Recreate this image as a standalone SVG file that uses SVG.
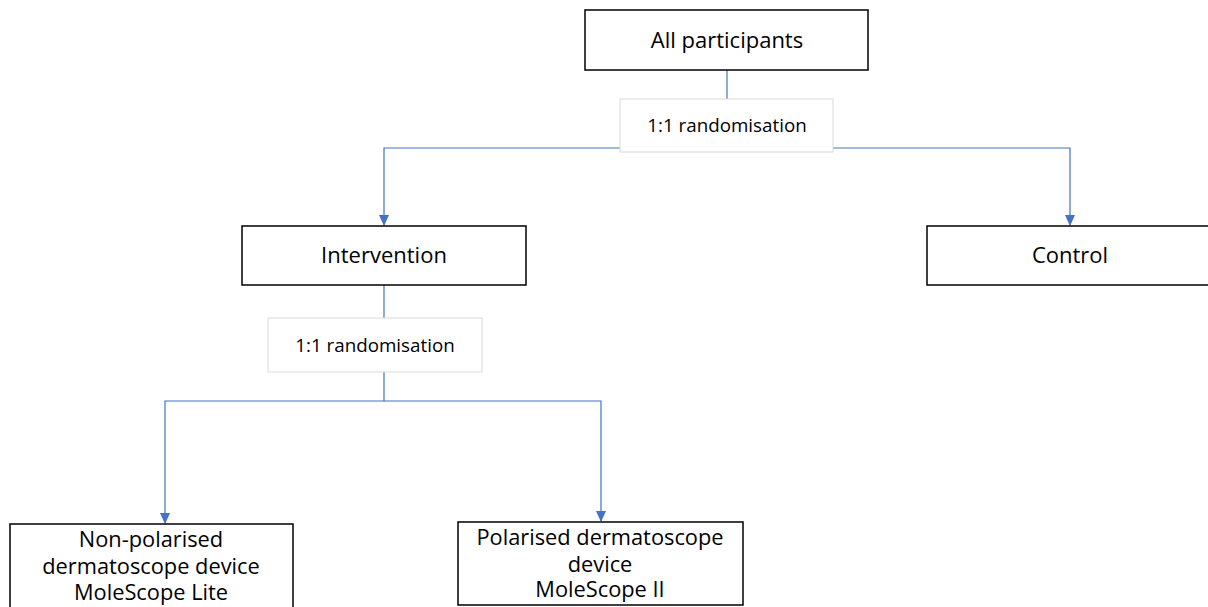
<svg xmlns="http://www.w3.org/2000/svg" width="1208" height="607" viewBox="0 0 1208 607">
<style>
.box{fill:#fff;stroke:#000;stroke-width:1.5}
.rbox{fill:#fff;stroke:#d9d9d9;stroke-width:1}
.t{font-family:"Open Sans","Liberation Sans",sans-serif;fill:#000;text-anchor:middle}
.big{font-size:22px}
.mid{font-size:18.8px}
.bot{font-size:21.8px}
.c{fill:none;stroke:#4472C4;stroke-width:1.2}
</style>
<g id="connectors">
<path class="c" d="M727,70 V99"/>
<path class="c" d="M620,148 H384 V225"/>
<path class="c" d="M833,148 H1070 V225"/>
<path class="c" d="M384,285 V318"/>
<path class="c" d="M384,372 V401 H165 V523"/>
<path class="c" d="M384,401 H601 V521"/>
<path d="M379,215 L389,215 L384,226 Z" fill="#4472C4"/>
<path d="M1065,215 L1075,215 L1070,226 Z" fill="#4472C4"/>
<path d="M160,513 L170,513 L165,524 Z" fill="#4472C4"/>
<path d="M596,511 L606,511 L601,522 Z" fill="#4472C4"/>
</g>
<g id="all">
<rect class="box" x="585" y="10" width="283" height="60"/>
<text class="t big" x="727" y="48">All participants</text>
</g>
<g id="rand1">
<rect class="rbox" x="620" y="99" width="213" height="53"/>
<text class="t mid" x="727" y="132">1:1 randomisation</text>
</g>
<g id="intervention">
<rect class="box" x="242" y="226" width="284" height="59"/>
<text class="t big" x="384" y="263">Intervention</text>
</g>
<g id="control">
<rect class="box" x="927" y="226" width="290" height="59"/>
<text class="t big" x="1070" y="263">Control</text>
</g>
<g id="rand2">
<rect class="rbox" x="268" y="318" width="214" height="54"/>
<text class="t mid" x="375" y="352">1:1 randomisation</text>
</g>
<g id="nonpol">
<rect class="box" x="10" y="524" width="283" height="95"/>
<text class="t bot" x="151" y="547">Non-polarised</text>
<text class="t bot" x="151" y="574">dermatoscope device</text>
<text class="t bot" x="151" y="600">MoleScope Lite</text>
</g>
<g id="pol">
<rect class="box" x="458" y="522" width="285" height="83"/>
<text class="t bot" x="600" y="545">Polarised dermatoscope</text>
<text class="t bot" x="600" y="572">device</text>
<text class="t bot" x="600" y="597">MoleScope II</text>
</g>
</svg>
